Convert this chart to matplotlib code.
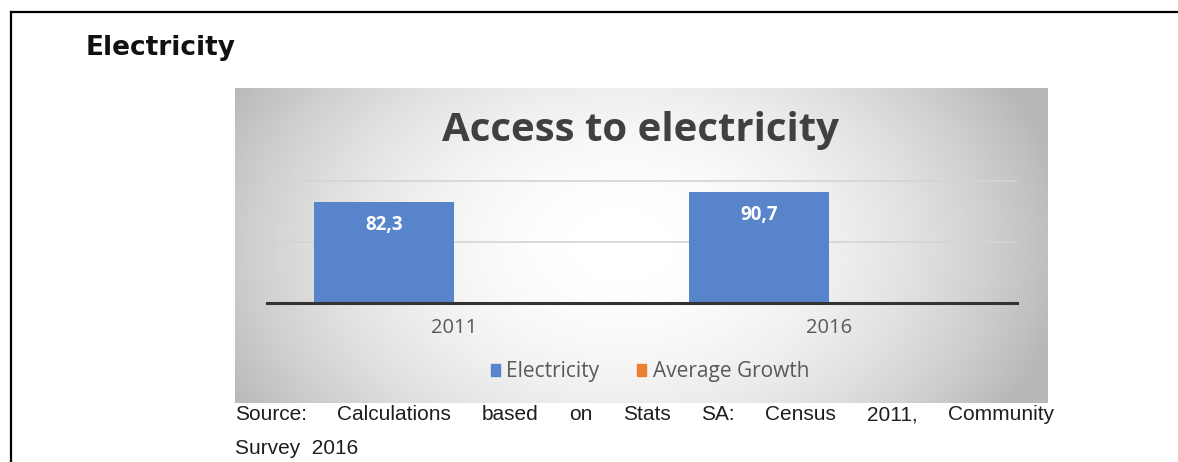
import matplotlib
matplotlib.use('Agg')
import matplotlib.pyplot as plt
import numpy as np
from matplotlib.lines import Line2D
from matplotlib.patches import Rectangle

# values
years = ['2011', '2016']
electricity = [82.3, 90.7]
avg_growth = [0.8, 0.0]
bar_labels = ['82,3', '90,7']
series_names = ['Electricity', 'Average Growth']
source_line1 = 'Source: Calculations based on Stats SA: Census 2011, Community'
source_line2 = 'Survey  2016'

W, H = 1178, 462
fig = plt.figure(figsize=(W / 100, H / 100), dpi=100)


def fx(px):
    return px / W


def fy(py):
    return 1 - py / H


# page rule, top and left
fig.add_artist(Line2D([fx(11), 1], [fy(12), fy(12)], color='black', lw=1.6))
fig.add_artist(Line2D([fx(11), fx(11)], [fy(12), 0], color='black', lw=1.6))

fig.text(fx(86), fy(48), 'Electricity', fontsize=19, fontweight='bold',
         family='DejaVu Sans', color='#111111', va='center', ha='left')

# chart panel: grey edges fading to white in the middle
bg = fig.add_axes([fx(235), fy(403), fx(1048) - fx(235), fy(88) - fy(403)])
bg.set_axis_off()
gx = np.linspace(-1, 1, 400)
gy = np.linspace(-1, 1, 160)
X, Y = np.meshgrid(gx, gy)
d = np.sqrt((X + 0.05) ** 2 + 0.3 * Y ** 2)
shade = 1 - 0.23 * np.clip(d, 0, 1.1) ** 2
bg.imshow(shade, cmap='gray', vmin=0, vmax=1, aspect='auto',
          extent=(0, 1, 0, 1), interpolation='bilinear')
bg.set_xlim(0, 1)
bg.set_ylim(0, 1)

fig.text(fx(641), fy(130), 'Access to electricity', fontsize=29, fontweight='bold',
         family='Open Sans', color='#404040', ha='center', va='center')

# bars
ax = fig.add_axes([fx(267), fy(303), fx(1017) - fx(267), fy(180) - fy(303)])
ax.patch.set_alpha(0)
x = np.arange(len(years))
w = 0.373
off = 0.187
ax.bar(x - off, electricity, w, color='#5884cb', zorder=3)
ax.bar(x + off, avg_growth, w, color='#ed7d31', zorder=3)

for xi, v, lab in zip(x, electricity, bar_labels):
    ax.annotate(lab, (xi - off, v), xytext=(0, -16.5), textcoords='offset points',
                ha='center', va='center', color='white', fontsize=13.5,
                fontweight='bold', family='Open Sans', zorder=4)

ax.set_xlim(-0.5, 1.5)
ax.set_ylim(0, 100.5)
ax.set_yticks([0, 50, 100])
ax.set_yticklabels([])
ax.yaxis.grid(True, color='#d4d4d4', lw=1.2)
ax.set_axisbelow(True)
ax.set_xticks(x)
ax.set_xticklabels(years, color='#595959', fontsize=14.5, family='Open Sans')
ax.tick_params(length=0, pad=11)
for s in ['top', 'left', 'right']:
    ax.spines[s].set_visible(False)
ax.spines['bottom'].set_color('#333333')
ax.spines['bottom'].set_linewidth(2.2)
ax.spines['bottom'].set_zorder(5)

handles = [Rectangle((0, 0), 1, 1, color='#5884cb'), Rectangle((0, 0), 1, 1, color='#ed7d31')]
leg = fig.legend(handles, series_names, loc='center', bbox_to_anchor=(fx(650), fy(372)),
                 bbox_transform=fig.transFigure, ncol=2, frameon=False,
                 handlelength=0.45, handleheight=0.45, handletextpad=0.3,
                 columnspacing=1.8, prop={'family': 'Open Sans', 'size': 15})
for t in leg.get_texts():
    t.set_color('#595959')

# source note, first line justified between the panel edges
renderer = fig.canvas.get_renderer()
words = source_line1.split()
arts = [fig.text(0, fy(415), wd, fontsize=15, family='Liberation Sans',
                 color='#1e1e1e', va='center', ha='left') for wd in words]
widths = [a.get_window_extent(renderer).width for a in arts]
gap = (1054 - 235 - sum(widths)) / (len(words) - 1)
xp = 235
for a, wd in zip(arts, widths):
    a.set_x(fx(xp))
    xp += wd + gap
fig.text(fx(235), fy(448), source_line2, fontsize=15, family='Liberation Sans',
         color='#1e1e1e', va='center', ha='left')

fig.savefig('out.png', dpi=100)
